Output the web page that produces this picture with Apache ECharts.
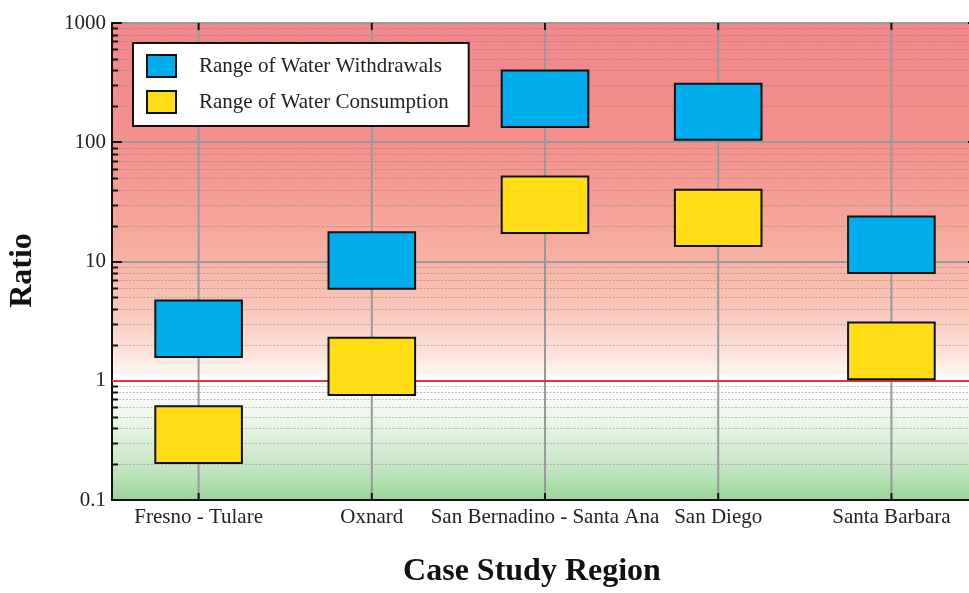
<!DOCTYPE html>
<html>
<head>
<meta charset="utf-8">
<script src="https://cdn.jsdelivr.net/npm/echarts@6/dist/echarts.min.js"></script>
<style>
html,body{margin:0;padding:0;background:#fff;overflow:hidden;}
#chart{width:969px;height:593px;}
</style>
</head>
<body>
<div id="chart"></div>
<script>
// ---- data ----
const categories = ['Fresno - Tulare', 'Oxnard', 'San Bernadino - Santa Ana', 'San Diego', 'Santa Barbara'];
const withdrawalLow  = [1.58, 5.9, 134, 105, 8.0];
const withdrawalHigh = [4.7, 17.6, 399, 309, 23.8];
const consumptionLow  = [0.204, 0.76, 17.3, 13.5, 1.03];
const consumptionHigh = [0.61, 2.29, 51.5, 40, 3.08];
const yTickLabels = ['0.1', '1', '10', '100', '1000'];
const minorTickValues = [0.2,0.3,0.4,0.5,0.6,0.7,0.8,0.9, 2,3,4,5,6,7,8,9, 20,30,40,50,60,70,80,90, 200,300,400,500,600,700,800,900];
const seriesNames = ['Range of Water Withdrawals', 'Range of Water Consumption'];
const referenceLine = 1;

const FONT = '"Liberation Serif", "Times New Roman", serif';
const BLUE = '#00adec';
const YELLOW = '#ffdc14';

const chart = echarts.init(document.getElementById('chart'), null, {renderer: 'canvas'});

function boxRender(params, api) {
  const x = api.value(0);
  const lo = api.coord([x, api.value(1)]);
  const hi = api.coord([x, api.value(2)]);
  const w = api.size([1, 0])[0] * 0.5;
  return {
    type: 'rect',
    shape: {x: lo[0] - w / 2, y: hi[1], width: w, height: lo[1] - hi[1]},
    style: {fill: api.visual('color'), stroke: '#111', lineWidth: 2}
  };
}

function minorRender(params, api) {
  const cs = params.coordSys;
  const y = Math.round(api.coord([0, api.value(1)])[1]) + 0.5;
  return {
    type: 'group',
    children: [
      {type: 'line', shape: {x1: cs.x, y1: y, x2: cs.x + cs.width, y2: y},
       style: {stroke: 'rgba(120,120,120,0.45)', lineWidth: 1, lineDash: [2, 1.5]}},
      {type: 'line', shape: {x1: cs.x, y1: y, x2: cs.x + 6, y2: y},
       style: {stroke: '#111', lineWidth: 2}}
    ]
  };
}

function vgridRender(params, api) {
  const cs = params.coordSys;
  const x = api.coord([api.value(0), 1])[0];
  return {
    type: 'group',
    children: [
      {type: 'line', shape: {x1: x, y1: cs.y, x2: x, y2: cs.y + cs.height},
       style: {stroke: '#999', lineWidth: 2}},
      {type: 'line', shape: {x1: x, y1: cs.y, x2: x, y2: cs.y + 7},
       style: {stroke: '#111', lineWidth: 2}},
      {type: 'line', shape: {x1: x, y1: cs.y + cs.height - 7, x2: x, y2: cs.y + cs.height},
       style: {stroke: '#111', lineWidth: 2}}
    ]
  };
}

const option = {
  animation: false,
  backgroundColor: '#fff',
  textStyle: {fontFamily: FONT},
  grid: {
    left: 112, top: 23, width: 866, height: 477,
    outerBoundsMode: 'none',
    containLabel: false,
    show: true,
    borderColor: '#111', borderWidth: 2,
    backgroundColor: new echarts.graphic.LinearGradient(0, 0, 0, 1, [
      {offset: 0, color: '#f2878b'},
      {offset: 0.25, color: '#f3918e'},
      {offset: 0.45, color: '#f6aa9c'},
      {offset: 0.6, color: '#f9c6b9'},
      {offset: 0.7, color: '#fde5de'},
      {offset: 0.75, color: '#ffffff'},
      {offset: 0.82, color: '#eef7ed'},
      {offset: 0.9, color: '#d3ebd0'},
      {offset: 1, color: '#9ad59a'}
    ])
  },
  legend: {
    left: 133, top: 43,
    orient: 'vertical',
    backgroundColor: '#fff',
    borderColor: '#111', borderWidth: 2,
    padding: [11, 20, 12, 13],
    itemWidth: 29, itemHeight: 22, itemGap: 12,
    icon: 'rect',
    selectedMode: false,
    textStyle: {fontFamily: FONT, fontSize: 21, color: '#222', padding: [0, 0, 0, 18]},
    data: [
      {name: seriesNames[0], itemStyle: {color: BLUE, borderColor: '#111', borderWidth: 2}},
      {name: seriesNames[1], itemStyle: {color: YELLOW, borderColor: '#111', borderWidth: 2}}
    ]
  },
  xAxis: {
    type: 'category',
    data: categories,
    boundaryGap: true,
    axisLine: {show: true, lineStyle: {color: '#111', width: 2}},
    axisTick: {show: false},
    splitLine: {show: false},
    axisLabel: {fontFamily: FONT, fontSize: 21, color: '#222', margin: 7, interval: 0},
    name: 'Case Study Region',
    nameLocation: 'middle',
    nameGap: 56,
    nameTextStyle: {fontFamily: FONT, fontSize: 32, fontWeight: 'bold', color: '#111', padding: [0, 26, 0, 0]}
  },
  yAxis: [{
    type: 'log',
    logBase: 10,
    min: 0.1, max: 1000,
    axisLine: {show: true, lineStyle: {color: '#111', width: 2}},
    axisTick: {show: true, inside: true, length: 10, lineStyle: {color: '#111', width: 2}},
    splitLine: {show: true, lineStyle: {color: '#999', width: 2}},
    axisLabel: {
      fontFamily: FONT, fontSize: 21, color: '#222', margin: 6,
      formatter: function (v, i) { return yTickLabels[i] !== undefined ? yTickLabels[i] : ''; }
    },
    name: 'Ratio',
    nameLocation: 'middle',
    nameGap: 73,
    nameTextStyle: {fontFamily: FONT, fontSize: 32, fontWeight: 'bold', color: '#111', padding: [0, 18, 0, 0]}
  }, {
    type: 'log', logBase: 10, min: 0.1, max: 1000, position: 'right',
    axisLine: {show: false},
    axisTick: {show: true, inside: true, length: 10, lineStyle: {color: '#111', width: 2}},
    axisLabel: {show: false},
    splitLine: {show: false}
  }],
  series: [
    {
      type: 'custom', name: 'minor', silent: true, z: 1,
      renderItem: minorRender,
      encode: {x: 0, y: 1},
      data: minorTickValues.map(v => [0, v]),
      markLine: {
        silent: true, symbol: 'none', label: {show: false},
        lineStyle: {color: '#e5323b', width: 2, type: 'solid'},
        data: [{yAxis: referenceLine}],
        z: 3
      }
    },
    {
      type: 'custom', name: 'vgrid', silent: true, z: 2,
      renderItem: vgridRender,
      encode: {x: 0, y: 1},
      data: categories.map((c, i) => [i, 1])
    },
    {
      type: 'custom', name: seriesNames[0], z: 5,
      itemStyle: {color: BLUE},
      renderItem: boxRender,
      encode: {x: 0, y: [1, 2]},
      data: categories.map((c, i) => [i, withdrawalLow[i], withdrawalHigh[i]])
    },
    {
      type: 'custom', name: seriesNames[1], z: 5,
      itemStyle: {color: YELLOW},
      renderItem: boxRender,
      encode: {x: 0, y: [1, 2]},
      data: categories.map((c, i) => [i, consumptionLow[i], consumptionHigh[i]])
    }
  ]
};
chart.setOption(option);
</script>
</body>
</html>
